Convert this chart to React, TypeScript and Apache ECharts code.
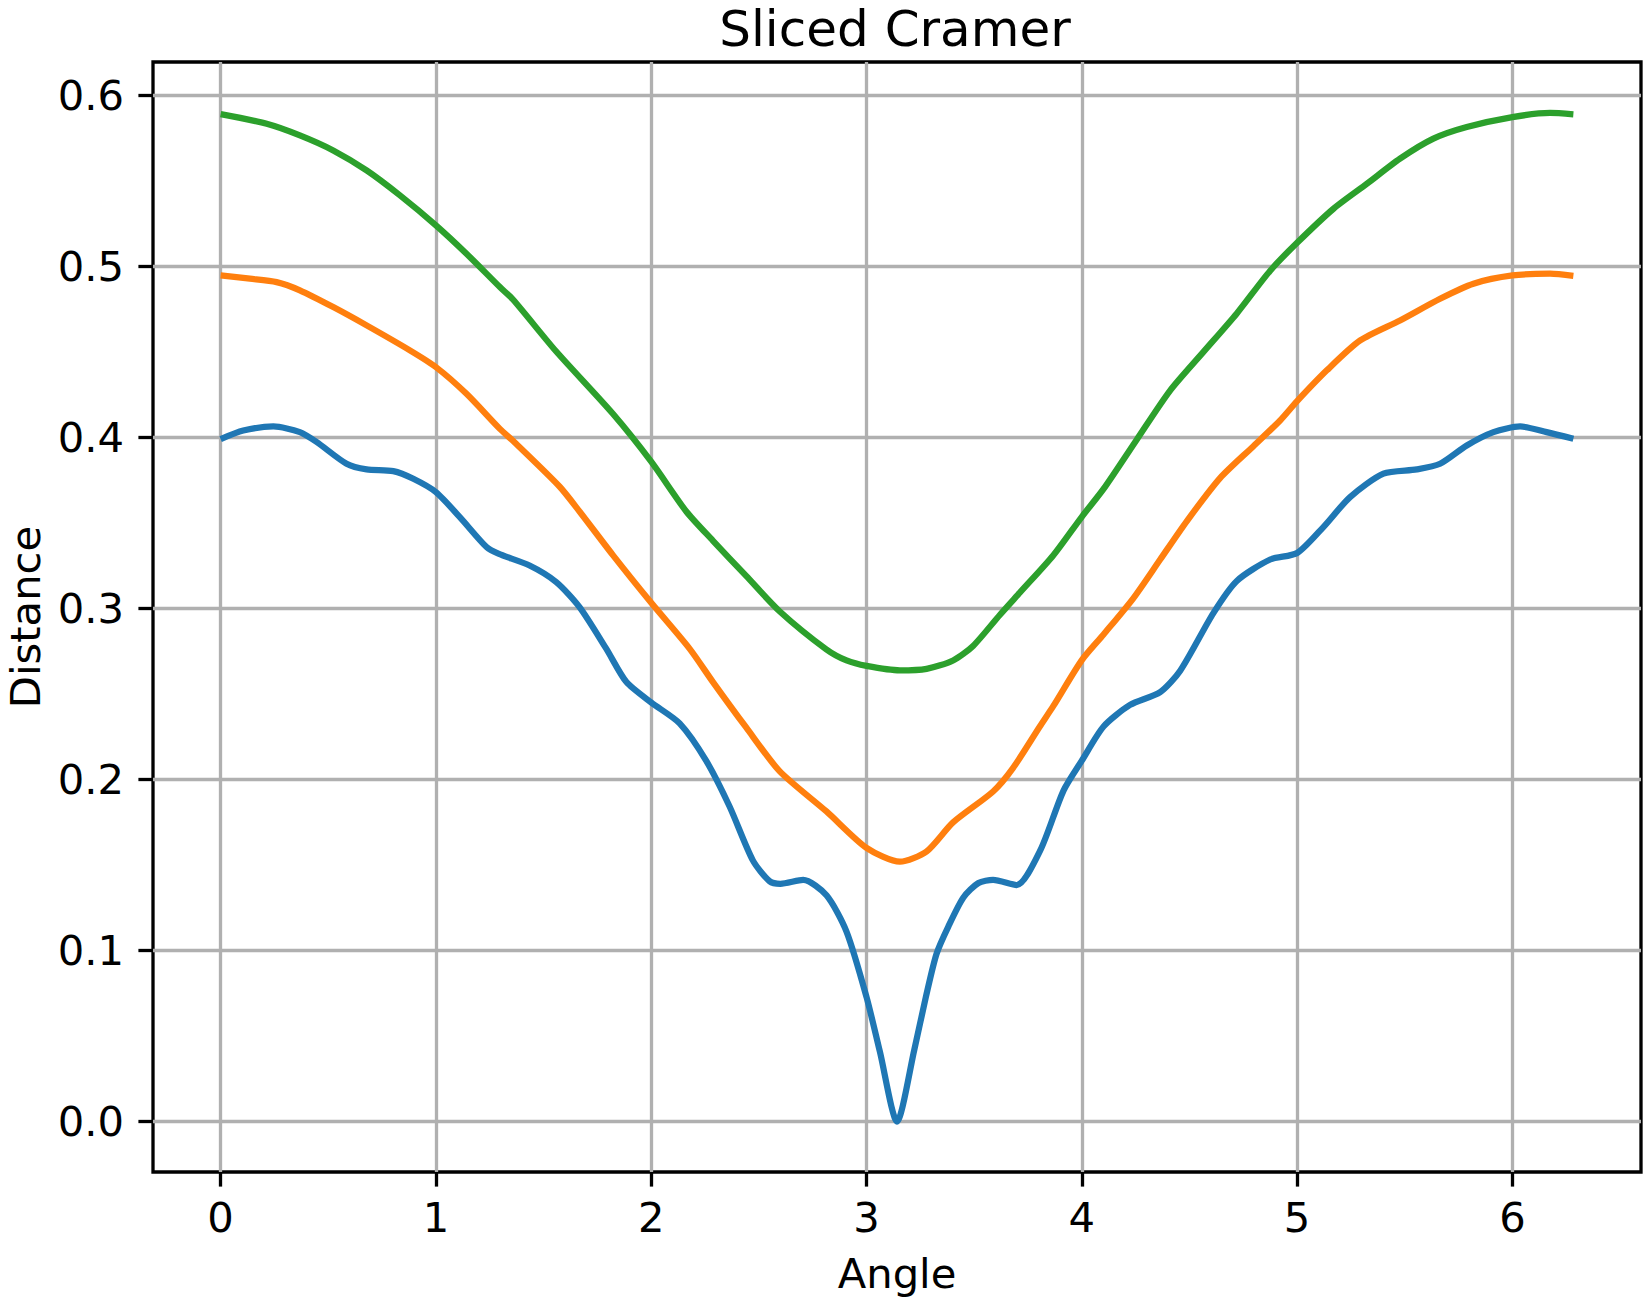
import { useEffect, useRef } from "react";
import * as echarts from "echarts";

const titleText = "Sliced Cramer";
const xName = "Angle";
const yName = "Distance";

const xTicks = [0, 1, 2, 3, 4, 5, 6];
const yTicks = [0, 0.1, 0.2, 0.3, 0.4, 0.5, 0.6];

const blueAngle = [
  0, 0.105, 0.245, 0.368, 0.446, 0.585, 0.678, 0.802, 0.895, 1.0, 1.111, 1.235, 1.29, 1.435, 1.559, 1.667,
  1.791, 1.884, 2.0, 2.132, 2.255, 2.364, 2.472, 2.55, 2.6, 2.706, 2.814, 2.907, 3.0, 3.062, 3.1416, 3.222,
  3.276, 3.325, 3.38, 3.45, 3.52, 3.588, 3.697, 3.807, 3.915, 4.0, 4.101, 4.224, 4.364, 4.457, 4.611, 4.72,
  4.875, 5.0, 5.122, 5.246, 5.401, 5.556, 5.664, 5.788, 5.912, 6.036, 6.159, 6.2832,
];
const blueDist = [
  0.399, 0.404, 0.4064, 0.4031, 0.3973, 0.3846, 0.3813, 0.3803, 0.3758, 0.368, 0.3534, 0.3359, 0.332, 0.3251,
  0.3154, 0.3008, 0.2765, 0.2571, 0.245, 0.2328, 0.211, 0.1842, 0.1527, 0.1405, 0.139, 0.1413, 0.1323, 0.1111,
  0.0728, 0.0409, 0.0, 0.042, 0.073, 0.098, 0.114, 0.131, 0.1395, 0.1413, 0.1383, 0.1585, 0.1935, 0.211, 0.231,
  0.2436, 0.2511, 0.2636, 0.2973, 0.3161, 0.3286, 0.3324, 0.3476, 0.3651, 0.3788, 0.3813, 0.3846, 0.3953,
  0.4031, 0.4064, 0.4031, 0.3992,
];

const orangeAngle = [
  0, 0.136, 0.26, 0.368, 0.523, 0.678, 0.879, 1.0, 1.142, 1.297, 1.358, 1.574, 1.667, 1.822, 2.0, 2.178,
  2.286, 2.441, 2.596, 2.814, 3.0, 3.155, 3.279, 3.402, 3.588, 3.681, 3.805, 3.868, 4.0, 4.101, 4.24, 4.364,
  4.488, 4.642, 4.797, 4.921, 5.0, 5.138, 5.293, 5.478, 5.664, 5.819, 6.0, 6.175, 6.2832,
];
const orangeDist = [
  0.4947, 0.4928, 0.4908, 0.486, 0.4762, 0.4655, 0.4509, 0.4411, 0.4255, 0.405, 0.398, 0.3713, 0.3567, 0.3312,
  0.3033, 0.2765, 0.2571, 0.2304, 0.2049, 0.1813, 0.16, 0.1519, 0.1579, 0.1749, 0.193, 0.2068, 0.231, 0.243,
  0.2698, 0.2848, 0.3061, 0.3286, 0.3511, 0.3762, 0.3949, 0.4099, 0.4212, 0.4392, 0.4567, 0.4684, 0.4811,
  0.4899, 0.4947, 0.4957, 0.4945,
];

const greenAngle = [
  0, 0.214, 0.368, 0.523, 0.678, 0.833, 1.0, 1.142, 1.297, 1.358, 1.559, 1.822, 2.0, 2.163, 2.286, 2.441,
  2.596, 2.814, 2.907, 3.0, 3.155, 3.279, 3.402, 3.495, 3.619, 3.714, 3.868, 4.0, 4.101, 4.255, 4.41,
  4.565, 4.72, 4.875, 5.0, 5.169, 5.324, 5.478, 5.633, 5.788, 6.0, 6.175, 6.2832,
];
const greenDist = [
  0.589, 0.5834, 0.5766, 0.5678, 0.5561, 0.5415, 0.524, 0.5074, 0.4879, 0.4806, 0.4502, 0.4138, 0.3858, 0.3567,
  0.3397, 0.319, 0.2984, 0.276, 0.2696, 0.2664, 0.2638, 0.2647, 0.2696, 0.2781, 0.2962, 0.3095, 0.3311,
  0.3536, 0.3699, 0.3987, 0.4274, 0.45, 0.4725, 0.4975, 0.5138, 0.5337, 0.5483, 0.563, 0.5747, 0.5815, 0.5873,
  0.5897, 0.5889,
];

const seriesColors = ["#1f77b4", "#ff7f0e", "#2ca02c"];

const FONT = "DejaVu Sans";

function pairs(xs: number[], ys: number[]) {
  return xs.map((x, i) => [x, ys[i]]);
}

export default function App() {
  const ref = useRef<HTMLDivElement>(null);
  useEffect(() => {
    const chart = echarts.init(ref.current!, null, { renderer: "svg" });
    const axisCommon = {
      axisLine: { show: false, onZero: false },
      axisTick: {
        show: true,
        inside: false,
        length: 14.6,
        lineStyle: { color: "#000", width: 3.3 },
      },
      splitLine: { show: true, lineStyle: { color: "#b0b0b0", width: 3.3 } },
    };
    chart.setOption({
      animation: false,
      backgroundColor: "#fff",
      graphic: [
        {
          type: "text",
          x: 895,
          y: 29,
          style: {
            text: titleText,
            font: `50px '${FONT}'`,
            fill: "#000",
            lineHeight: 40,
            align: "center",
            verticalAlign: "middle",
            textAlign: "center",
            textVerticalAlign: "middle",
          },
        },
      ],
      grid: {
        show: true,
        left: 153,
        top: 62,
        width: 1488,
        height: 1110,
        borderColor: "#000",
        borderWidth: 3.3,
        backgroundColor: "transparent",
        containLabel: false,
        outerBoundsMode: "none",
      },
      xAxis: {
        type: "value",
        min: -0.31416,
        max: 6.59734,
        name: xName,
        nameLocation: "middle",
        nameGap: 80,
        nameTextStyle: { fontFamily: FONT, fontSize: 41.7, color: "#000" },
        ...axisCommon,
        axisTick: { ...axisCommon.axisTick, customValues: xTicks },
        axisLabel: {
          customValues: xTicks,
          margin: 24,
          fontFamily: FONT,
          fontSize: 41.7,
          color: "#000",
          formatter: (v: number) => String(Math.round(v)),
        },
      },
      yAxis: {
        type: "value",
        min: -0.0295,
        max: 0.6195,
        name: yName,
        nameLocation: "middle",
        nameGap: 109,
        nameTextStyle: { fontFamily: FONT, fontSize: 41.7, color: "#000", lineHeight: 34 },
        ...axisCommon,
        axisTick: { ...axisCommon.axisTick, customValues: yTicks },
        axisLabel: {
          customValues: yTicks,
          margin: 29,
          fontFamily: FONT,
          fontSize: 41.7,
          color: "#000",
          formatter: (v: number) => v.toFixed(1),
        },
      },
      series: [
        { d: pairs(blueAngle, blueDist), c: seriesColors[0] },
        { d: pairs(orangeAngle, orangeDist), c: seriesColors[1] },
        { d: pairs(greenAngle, greenDist), c: seriesColors[2] },
      ].map((s) => ({
        type: "line",
        data: s.d,
        showSymbol: false,
        smooth: 0.25,
        lineStyle: { color: s.c, width: 6.25, cap: "butt", join: "round" },
        itemStyle: { color: s.c },
      })),
    });
    return () => chart.dispose();
  }, []);
  return (
    <div
      ref={ref}
      style={{ position: "fixed", left: 0, top: 0, width: 1643, height: 1298, background: "#fff" }}
    />
  );
}
